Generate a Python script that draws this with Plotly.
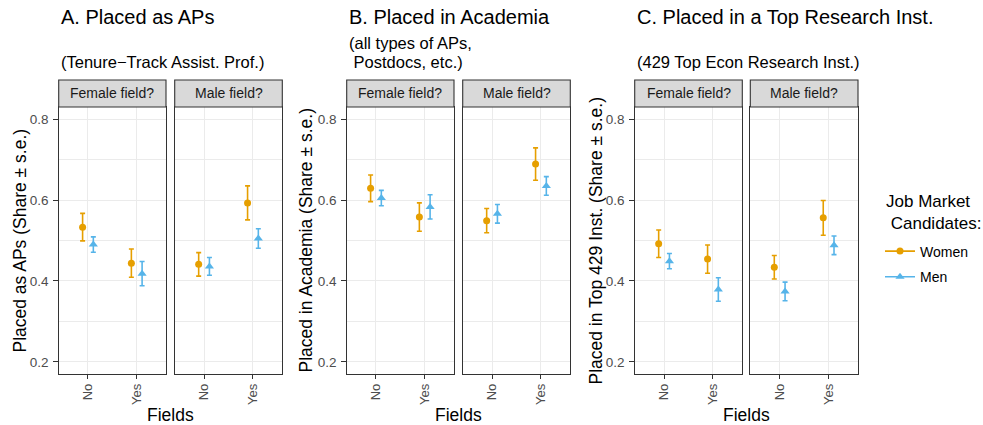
import plotly.graph_objects as go

# ---------------- data ----------------
fields = ["No", "Yes"]
facets = ["Female field?", "Male field?"]
groups = ["Women", "Men"]

panel_titles = ["A. Placed as APs", "B. Placed in Academia", "C. Placed in a Top Research Inst."]
panel_subtitles = [["(Tenure\u2212Track Assist. Prof.)"],
                   ["(all types of APs,", "\u00a0Postdocs, etc.)"],
                   ["(429 Top Econ Research Inst.)"]]
y_titles = ["Placed as APs (Share \u00b1 s.e.)",
            "Placed in Academia (Share \u00b1 s.e.)",
            "Placed in Top 429 Inst. (Share \u00b1 s.e.)"]
x_title = "Fields"
legend_title = ["Job Market", "\u00a0Candidates:"]
y_ticks = [0.2, 0.4, 0.6, 0.8]

# order within each list: Female field (No, Yes), Male field (No, Yes)
ap_women = [0.533, 0.444, 0.441, 0.593]
ap_women_se = [0.034, 0.035, 0.029, 0.042]
ap_men = [0.490, 0.418, 0.436, 0.505]
ap_men_se = [0.019, 0.030, 0.022, 0.024]

acad_women = [0.629, 0.558, 0.549, 0.689]
acad_women_se = [0.033, 0.035, 0.030, 0.040]
acad_men = [0.605, 0.583, 0.566, 0.635]
acad_men_se = [0.019, 0.030, 0.023, 0.023]

top_women = [0.492, 0.454, 0.434, 0.556]
top_women_se = [0.034, 0.035, 0.029, 0.043]
top_men = [0.449, 0.379, 0.374, 0.488]
top_men_se = [0.019, 0.029, 0.023, 0.023]

panels = [
    {"Women": (ap_women, ap_women_se), "Men": (ap_men, ap_men_se)},
    {"Women": (acad_women, acad_women_se), "Men": (acad_men, acad_men_se)},
    {"Women": (top_women, top_women_se), "Men": (top_men, top_men_se)},
]

# ---------------- style ----------------
W, H = 983, 425
FONT = "Liberation Sans, Arial, Helvetica, sans-serif"
colors = {"Women": "#E69F00", "Men": "#56B4E9"}
symbols = {"Women": "circle", "Men": "triangle-up"}
msize = {"Women": 7, "Men": 8}
dodge = {"Women": -0.11, "Men": 0.11}
facet_px = [[(58.7, 166.0), (174.7, 282.3)],
            [(346.7, 454.0), (462.7, 570.3)],
            [(634.7, 742.3), (750.3, 858.0)]]
plot_top, plot_bot = 107.0, 374.0
strip_top = 80.0
title_x = [59.0, 347.0, 635.0]
ytitle_x = [19.0, 305.0, 595.0]
BORDER = "#333333"
GRID = "#EBEBEB"


def px_x(v):
    return v / W


def px_y(v):
    return 1 - v / H


fig = go.Figure()
layout = {}
annotations = []
shapes = []

for p, pdata in enumerate(panels):
    for f in range(len(facets)):
        k = p * 2 + f + 1
        xs = "x" if k == 1 else f"x{k}"
        ys = "y" if k == 1 else f"y{k}"
        for g in groups:
            est, se = pdata[g]
            yv = est[f * 2:(f + 1) * 2]
            sv = se[f * 2:(f + 1) * 2]
            xv = [i + 1 + dodge[g] for i in range(len(fields))]
            fig.add_trace(go.Scatter(
                x=xv, y=yv, xaxis=xs, yaxis=ys, mode="markers",
                marker=dict(color=colors[g], symbol=symbols[g], size=msize[g], line=dict(width=0)),
                error_y=dict(type="data", array=sv, visible=True, color=colors[g],
                             thickness=1.6, width=2.5),
                showlegend=False, name=g, hoverinfo="x+y",
            ))
        x0, x1 = facet_px[p][f]
        xa = dict(domain=[px_x(x0), px_x(x1)], range=[0.4, 2.6], anchor=ys,
                  tickmode="array", tickvals=[i + 1 for i in range(len(fields))], ticktext=fields,
                  tickangle=-90, ticks="outside", ticklen=3.5, tickwidth=1.1, tickcolor=BORDER,
                  tickfont=dict(size=13, color="#4D4D4D", family=FONT),
                  showgrid=True, gridcolor=GRID, gridwidth=1.1, zeroline=False,
                  showline=True, linecolor=BORDER, linewidth=1.1, mirror=True, fixedrange=True)
        ya = dict(domain=[px_y(plot_bot), px_y(plot_top)], range=[0.17, 0.83], anchor=xs,
                  tickmode="array", tickvals=y_ticks, ticktext=[f"{t:.1f}" for t in y_ticks],
                  ticks="outside" if f == 0 else "", showticklabels=(f == 0),
                  ticklen=4.5, tickwidth=1.1, tickcolor=BORDER, ticklabelstandoff=2,
                  tickfont=dict(size=13.5, color="#4D4D4D", family=FONT),
                  showgrid=True, gridcolor=GRID, gridwidth=1.1, zeroline=False,
                  minor=dict(tickmode="array", tickvals=[0.3, 0.5, 0.7], showgrid=True,
                             gridcolor=GRID, gridwidth=0.55, ticks=""),
                  showline=True, linecolor=BORDER, linewidth=1.1, mirror=True, fixedrange=True)
        layout["xaxis" if k == 1 else f"xaxis{k}"] = xa
        layout["yaxis" if k == 1 else f"yaxis{k}"] = ya
        # strip
        shapes.append(dict(type="rect", xref="paper", yref="paper",
                           x0=px_x(x0), x1=px_x(x1), y0=px_y(plot_top), y1=px_y(strip_top),
                           fillcolor="#D9D9D9", line=dict(color=BORDER, width=1.1), layer="above"))
        annotations.append(dict(text=facets[f], xref="paper", yref="paper",
                                x=px_x((x0 + x1) / 2), y=px_y((strip_top + plot_top) / 2),
                                xanchor="center", yanchor="middle", showarrow=False,
                                font=dict(size=14, color="#1A1A1A", family=FONT)))
    # titles
    annotations.append(dict(text=panel_titles[p], xref="paper", yref="paper",
                            x=px_x(title_x[p]), y=px_y(17.5), xanchor="left", yanchor="middle",
                            showarrow=False, font=dict(size=20, color="black", family=FONT)))
    subs = panel_subtitles[p]
    for j, line in enumerate(subs):
        ypos = 62.3 - (len(subs) - 1 - j) * 19.0
        annotations.append(dict(text=line, xref="paper", yref="paper",
                                x=px_x(title_x[p]), y=px_y(ypos), xanchor="left", yanchor="middle",
                                showarrow=False, font=dict(size=16.5, color="black", family=FONT)))
    # y title
    annotations.append(dict(text=y_titles[p], xref="paper", yref="paper", textangle=-90,
                            x=px_x(ytitle_x[p]), y=px_y((plot_top + plot_bot) / 2),
                            xanchor="center", yanchor="middle", showarrow=False,
                            font=dict(size=17.5, color="black", family=FONT)))
    # x title
    xc = (facet_px[p][0][0] + facet_px[p][1][1]) / 2
    annotations.append(dict(text=x_title, xref="paper", yref="paper",
                            x=px_x(xc), y=px_y(415.0), xanchor="center", yanchor="middle",
                            showarrow=False, font=dict(size=17.5, color="black", family=FONT)))

# legend title (single multi-line text)
annotations.append(dict(text="<br>".join(legend_title), xref="paper", yref="paper",
                        x=px_x(883.5), y=px_y(212.5), xanchor="left", yanchor="middle", align="left",
                        showarrow=False, font=dict(size=17, color="black", family=FONT)))

# legend entries
for gi, g in enumerate(groups):
    fig.add_trace(go.Scatter(
        x=[None], y=[None], mode="lines+markers", name=g, legendgroup=g,
        marker=dict(color=colors[g], symbol=symbols[g], size=msize[g]),
        line=dict(color=colors[g], width=1.6), showlegend=True, xaxis="x", yaxis="y"))

fig.update_layout(
    width=W, height=H, margin=dict(l=0, r=0, t=0, b=0),
    paper_bgcolor="white", plot_bgcolor="white",
    font=dict(family=FONT, color="black"),
    annotations=annotations, shapes=shapes,
    legend=dict(x=px_x(880.0), y=px_y(235.5), xanchor="left", yanchor="top",
                font=dict(size=14, color="black", family=FONT),
                bgcolor="rgba(0,0,0,0)", tracegroupgap=4.5, itemclick=False, itemdoubleclick=False),
    **layout,
)

fig.write_html("out.html")
